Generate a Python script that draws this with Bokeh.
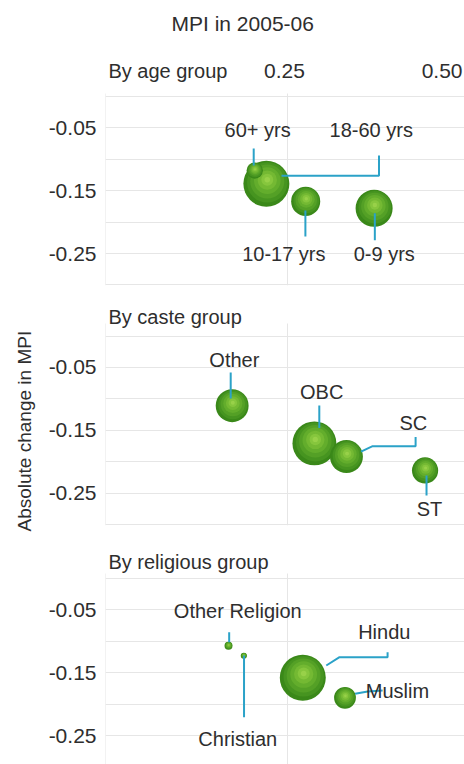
import numpy as np
from bokeh.plotting import figure
from bokeh.models import FixedTicker, Range1d, Title
from bokeh.layouts import column
from bokeh.embed import file_html
from bokeh.resources import INLINE
from bokeh.core.properties import value

# ---------------- data ----------------
TITLE = "MPI in 2005-06"
Y_LABEL = "Absolute change in MPI"
x_tick_values = [0.25, 0.50]
x_tick_labels = ["0.25", "0.50"]
x_grid_values = [0.0, 0.25]
y_tick_values = [-0.05, -0.15, -0.25]
y_tick_labels = ["-0.05", "-0.15", "-0.25"]
y_minor_values = [0.0, -0.10, -0.20, -0.30]

panel_titles = ["By age group", "By caste group", "By religious group"]

age_groups = ["18-60 yrs", "60+ yrs", "10-17 yrs", "0-9 yrs"]
age_mpi_0506 = [0.221, 0.205, 0.275, 0.369]
age_change = [-0.139, -0.118, -0.167, -0.178]
age_weight = [80, 10, 32, 52]

caste_groups = ["Other", "OBC", "SC", "ST"]
caste_mpi_0506 = [0.174, 0.287, 0.331, 0.439]
caste_change = [-0.111, -0.171, -0.192, -0.214]
caste_weight = [41, 73, 41, 26]

religion_groups = ["Other Religion", "Christian", "Hindu", "Muslim"]
religion_mpi_0506 = [0.169, 0.190, 0.271, 0.329]
religion_change = [-0.107, -0.123, -0.158, -0.190]
religion_weight = [2.4, 1.4, 80, 18]

# ---------------- annotation layout (label anchor, alignment, leader path) ----------------
age_notes = {
    "60+ yrs":   (0.209, -0.054, "center", [(0.2036, -0.083), (0.2036, -0.110)]),
    "18-60 yrs": (0.365, -0.054, "center", [(0.3757, -0.094), (0.3757, -0.126), (0.2418, -0.126)]),
    "10-17 yrs": (0.245, -0.250, "center", [(0.2746, -0.1815), (0.2746, -0.223)]),
    "0-9 yrs":   (0.383, -0.250, "center", [(0.370, -0.186), (0.370, -0.229)]),
}
caste_notes = {
    "Other": (0.177, -0.039, "center", [(0.172, -0.058), (0.172, -0.0995)]),
    "OBC":   (0.297, -0.0895, "center", [(0.2937, -0.1107), (0.2937, -0.1465)]),
    "SC":    (0.423, -0.139, "center", [(0.351, -0.1842), (0.367, -0.1755), (0.426, -0.1755), (0.426, -0.161)]),
    "ST":    (0.445, -0.275, "center", [(0.441, -0.222), (0.441, -0.254)]),
}
religion_notes = {
    "Other Religion": (0.1817, -0.051, "center", [(0.1699, -0.0855), (0.1699, -0.1014)]),
    "Christian":      (0.1817, -0.2548, "center", [(0.1903, -0.1226), (0.1903, -0.2208)]),
    "Hindu":          (0.383, -0.0855, "center", [(0.3033, -0.1385), (0.3215, -0.1253), (0.3875, -0.1253), (0.3875, -0.1174)]),
    "Muslim":         (0.3575, -0.1794, "left", [(0.3429, -0.1836), (0.3602, -0.180), (0.3807, -0.1783)]),
}

# ---------------- style / layout ----------------
FONT = "Liberation Sans"
TEXT = "#2e2e2e"
GRID = "#e6e6e6"
LEADER = "#2ba2c8"
PX_PER_X = 732.0
PX_PER_Y = 628.0
LEFT = 103
WIDTH = 464
X_END = (WIDTH - LEFT) / PX_PER_X
SIZE_K = 5.14
SPHERE = [(1.00, "#3a8819", 0.00), (0.88, "#469420", 0.03), (0.74, "#54a026", 0.05),
          (0.58, "#63ad2c", 0.07), (0.42, "#74b933", 0.08), (0.26, "#86c63d", 0.09),
          (0.12, "#98d149", 0.09)]


def make_panel(height, bottom, zero_px, frame_top_px, grid_top_px):
    """zero_px: pixel row of MPI change 0.00 measured from the panel's top."""
    frame_h = height - bottom
    y_end = (zero_px - frame_top_px) / PX_PER_Y
    y_start = y_end - frame_h / PX_PER_Y
    p = figure(width=WIDTH, height=height, output_backend="svg", toolbar_location=None,
               x_range=Range1d(0, X_END), y_range=Range1d(y_start, y_end),
               x_axis_location=None, min_border_left=LEFT, min_border_right=0,
               min_border_top=0, min_border_bottom=bottom,
               background_fill_color="white", border_fill_color="white")
    p.outline_line_color = None
    yt = FixedTicker(ticks=y_tick_values, minor_ticks=y_minor_values)
    p.yaxis.ticker = yt
    p.ygrid.ticker = yt
    p.ygrid.grid_line_color = GRID
    p.ygrid.minor_grid_line_color = GRID
    p.yaxis.major_label_overrides = {v: l for v, l in zip(y_tick_values, y_tick_labels)}
    p.yaxis.axis_line_color = None
    p.yaxis.major_tick_line_color = None
    p.yaxis.minor_tick_line_color = None
    p.yaxis.major_label_standoff = 3
    p.yaxis.major_label_text_font = FONT
    p.yaxis.major_label_text_font_size = "21px"
    p.yaxis.major_label_text_color = TEXT
    p.xgrid.visible = False
    gtop = (zero_px - grid_top_px) / PX_PER_Y
    n = len(x_grid_values)
    p.segment(x0=x_grid_values, y0=[y_start] * n, x1=x_grid_values, y1=[gtop] * n,
              line_color=GRID, line_width=1, level="underlay")
    return p, y_end


def header_text(p, xs, ys, texts, align, size):
    p.text(xs, ys, text=texts, text_align=align, text_baseline="middle",
           text_font=value(FONT), text_font_size=size, text_color=TEXT)


def draw_group(p, names, xs, ys, ws, notes, title, title_y):
    xs = np.asarray(xs, float); ys = np.asarray(ys, float); ws = np.asarray(ws, float)
    d = SIZE_K * np.sqrt(ws)
    for i in np.argsort(-ws):
        lx = [xs[i] + 0.02 * d[i] * (1 if f < 1 else 0) / PX_PER_X for f, c, u in SPHERE]
        ly = [ys[i] + u * d[i] / PX_PER_Y for f, c, u in SPHERE]
        p.scatter(lx, ly, size=[f * d[i] for f, c, u in SPHERE],
                  fill_color=[c for f, c, u in SPHERE], line_color=None, marker="circle")
    for name in names:
        tx, ty, align, path = notes[name]
        p.line([q[0] for q in path], [q[1] for q in path], line_color=LEADER, line_width=2)
    for align in ("center", "left"):
        sel = [n for n in names if notes[n][2] == align]
        if sel:
            header_text(p, [notes[n][0] for n in sel], [notes[n][1] for n in sel], sel, align, "20px")
    header_text(p, [0.004], [title_y], [title], "left", "20px")


# panel 1: rows measured from page top (0.00 line at 96 px)
p1, y1_end = make_panel(292, 7, 96, 0, 93)
draw_group(p1, age_groups, age_mpi_0506, age_change, age_weight, age_notes, panel_titles[0], 0.0414)
header_text(p1, [0.1885], [0.117], [TITLE], "center", "21px")
for v, l in zip(x_tick_values, x_tick_labels):
    if v <= X_END:
        header_text(p1, [v - 3 / PX_PER_X], [0.0414], [l], "center", "21px")
    else:
        header_text(p1, [X_END - 2 / PX_PER_X], [0.0414], [l], "right", "21px")

# panel 2: starts at page row 292 (0.00 line at 335.5)
p2, _ = make_panel(240, 7, 335.5 - 292, 0, 323 - 292)
draw_group(p2, caste_groups, caste_mpi_0506, caste_change, caste_weight, caste_notes, panel_titles[1], 0.030)
p2.add_layout(Title(text=Y_LABEL, align="left", offset=-6, standoff=22,
                    text_font=FONT, text_font_size="19px", text_color=TEXT,
                    text_font_style="normal"), "left")

# panel 3: starts at page row 532 (0.00 line at 578)
p3, _ = make_panel(232, 0, 578 - 532, 0, 573 - 532)
draw_group(p3, religion_groups, religion_mpi_0506, religion_change, religion_weight, religion_notes,
           panel_titles[2], 0.026)

layout = column(p1, p2, p3, spacing=0)
open("out.html", "w").write(file_html(layout, INLINE))
